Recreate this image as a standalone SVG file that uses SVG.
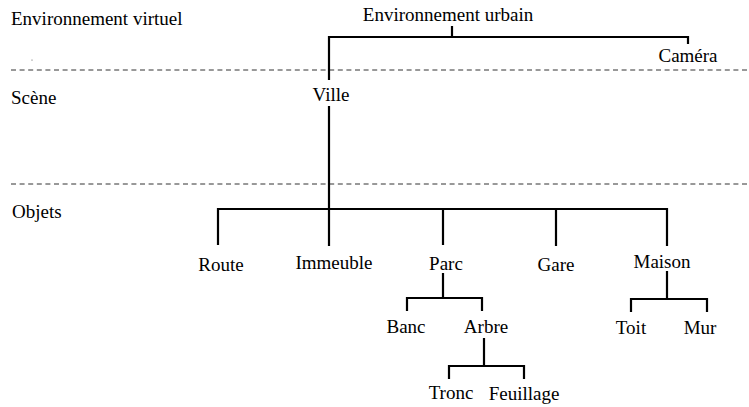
<svg xmlns="http://www.w3.org/2000/svg" width="749" height="407" viewBox="0 0 749 407">
<style>
.c{fill:none;stroke:#000;stroke-width:2.2}
.d{fill:none;stroke:#333;stroke-width:1;stroke-dasharray:5 3.6}
</style>
<rect width="749" height="407" fill="#fff"/>
<g font-family="Liberation Serif, Tinos, Times New Roman, DejaVu Serif, serif" font-size="19" fill="#000">
<g id="layers">
<line class="d" x1="11" y1="70" x2="749" y2="70"/>
<line class="d" x1="11" y1="184" x2="749" y2="184"/>
<text x="11" y="25">Environnement virtuel</text>
<text x="11" y="104">Scène</text>
<text x="12" y="218">Objets</text>
<circle cx="32" cy="60" r="0.6" fill="#555"/>
</g>
<g id="connectors">
<path class="c" d="M452,26V37M329,80V37H688V44"/>
<path class="c" d="M329,106V246M218,245V209H667V246M443,209V245M556,209V246"/>
<path class="c" d="M443,273V298M407,311V298H482V311"/>
<path class="c" d="M667,271V299M631,312V299H707V312"/>
<path class="c" d="M484,338V366M449,379V366H524V379"/>
</g>
<g text-anchor="middle">
<g id="n-urbain"><text x="448" y="21">Environnement urbain</text></g>
<g id="n-camera"><text x="688" y="62">Caméra</text></g>
<g id="n-ville"><text x="331" y="101">Ville</text></g>
<g id="n-route"><text x="221" y="271">Route</text></g>
<g id="n-immeuble"><text x="334" y="269">Immeuble</text></g>
<g id="n-parc"><text x="446" y="270">Parc</text></g>
<g id="n-gare"><text x="556" y="271">Gare</text></g>
<g id="n-maison"><text x="662" y="268">Maison</text></g>
<g id="n-banc"><text x="406" y="333">Banc</text></g>
<g id="n-arbre"><text x="486" y="333">Arbre</text></g>
<g id="n-toit"><text x="631" y="334">Toit</text></g>
<g id="n-mur"><text x="700" y="334">Mur</text></g>
<g id="n-tronc"><text x="451" y="399">Tronc</text></g>
<g id="n-feuillage"><text x="524" y="400">Feuillage</text></g>
</g>
</g>
</svg>
